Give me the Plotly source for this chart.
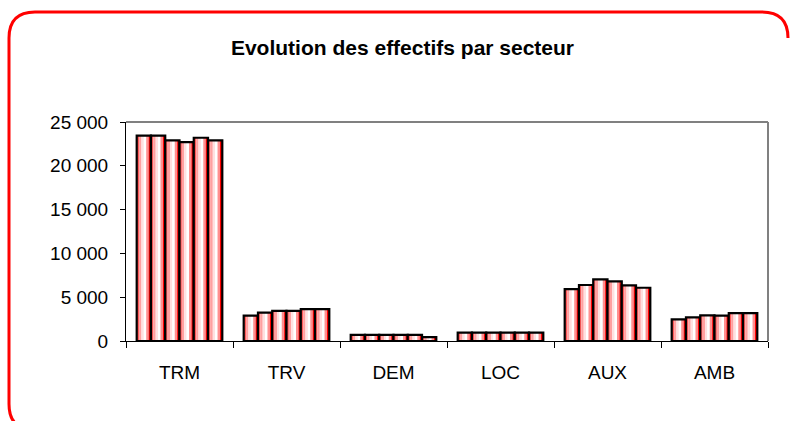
import plotly.graph_objects as go

# ---- data ----
categories = ["TRM", "TRV", "DEM", "LOC", "AUX", "AMB"]
series_names = ["Série 1", "Série 2", "Série 3", "Série 4", "Série 5", "Série 6"]
serie1 = [23450, 2900, 700, 950, 5930, 2470]
serie2 = [23450, 3250, 700, 950, 6390, 2700]
serie3 = [22900, 3450, 700, 950, 7030, 2930]
serie4 = [22700, 3450, 700, 950, 6810, 2890]
serie5 = [23200, 3650, 700, 950, 6350, 3190]
serie6 = [22900, 3650, 450, 950, 6080, 3190]
series_values = [serie1, serie2, serie3, serie4, serie5, serie6]
y_tickvals = [0, 5000, 10000, 15000, 20000, 25000]
y_ticktext = ["0", "5 000", "10 000", "15 000", "20 000", "25 000"]
title_text = "Evolution des effectifs par secteur"

# ---- styling ----
W, H = 790, 421
ML, MR, MT, MB = 126, 22, 122, 80
stripe_colors = ["#ff5a5a", "#ffa0a0", "#ffe0e0", "#ffffff", "#ff9090", "#ff0000"]
group_width = 0.8
n_series = len(series_values)
bw = group_width / n_series
ns = len(stripe_colors)

fig = go.Figure()
for j, vals in enumerate(series_values):
    base_off = -group_width / 2 + j * bw
    for k, col in enumerate(stripe_colors):
        fig.add_trace(go.Bar(
            x=categories, y=vals, name=series_names[j],
            width=bw / ns, offset=base_off + k * bw / ns,
            marker=dict(color=col, line=dict(width=0)),
            showlegend=False, hoverinfo="skip"))
    fig.add_trace(go.Bar(
        x=categories, y=vals, name=series_names[j],
        width=bw, offset=base_off,
        marker=dict(color="rgba(0,0,0,0)", line=dict(color="black", width=2.2)),
        showlegend=False))

pw, ph = W - ML - MR, H - MT - MB
def px(x):
    return (x - ML) / pw
def py(y):
    return (H - MB - y) / ph

x0, y0, y1, r = 9, 12, 430, 26
xc = 788  # x where the top-right corner reaches its right edge
# open path: only the top edge with the top-right corner, the left edge and the bottom
path = (f"M {px(xc)},{py(y0+r)} Q {px(xc)},{py(y0)} {px(xc-r)},{py(y0)} "
        f"L {px(x0+r)},{py(y0)} Q {px(x0)},{py(y0)} {px(x0)},{py(y0+r)} "
        f"L {px(x0)},{py(y1-r)} Q {px(x0)},{py(y1)} {px(x0+r)},{py(y1)} "
        f"L {px(xc-r)},{py(y1)}")

fig.update_layout(
    width=W, height=H,
    margin=dict(l=ML, r=MR, t=MT, b=MB, pad=0),
    paper_bgcolor="white", plot_bgcolor="white",
    barmode="overlay",
    font=dict(family="Liberation Sans, Arial, sans-serif", color="black", size=19),
    title=dict(text=f"<b>{title_text}</b>", x=402.5 / W, xanchor="center",
               y=1 - 48 / H, yanchor="middle",
               font=dict(size=21, family="Liberation Sans, Arial, sans-serif")),
    xaxis=dict(type="category", categoryorder="array", categoryarray=categories,
               range=[-0.5, len(categories) - 0.5], tickson="boundaries",
               ticks="outside", ticklen=6, tickcolor="black", showline=True,
               linecolor="black", linewidth=1, showgrid=False, ticklabelstandoff=14,
               tickfont=dict(size=19)),
    yaxis=dict(range=[0, 25000], tickvals=y_tickvals, ticktext=y_ticktext,
               ticks="outside", ticklen=5, tickcolor="black", showline=True,
               linecolor="black", linewidth=1, showgrid=False, zeroline=False,
               ticklabelstandoff=8, tickfont=dict(size=19)),
    shapes=[
        dict(type="line", xref="paper", yref="paper", x0=0, x1=1, y0=1, y1=1,
             line=dict(color="#808080", width=2)),
        dict(type="line", xref="paper", yref="paper", x0=1, x1=1, y0=0, y1=1,
             line=dict(color="#808080", width=2)),
        dict(type="path", xref="paper", yref="paper", path=path,
             line=dict(color="red", width=3), fillcolor="rgba(0,0,0,0)"),
    ],
)

fig.write_html("out.html", config={"displayModeBar": False},
               post_script="document.body.style.margin='0';document.body.style.overflow='hidden';")
